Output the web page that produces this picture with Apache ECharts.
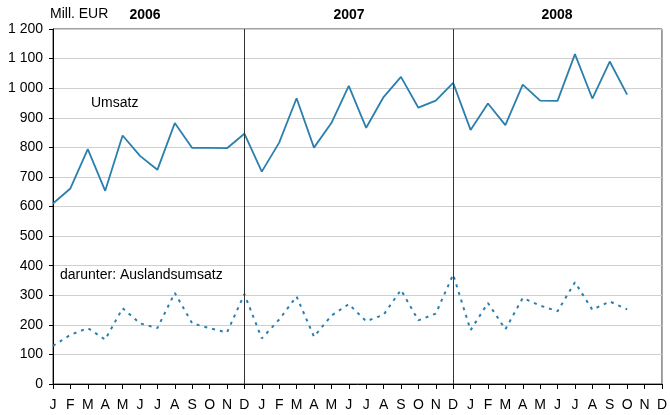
<!DOCTYPE html>
<html>
<head>
<meta charset="utf-8">
<script src="https://cdn.jsdelivr.net/npm/echarts@6/dist/echarts.min.js"></script>
<style>html,body{margin:0;padding:0;background:#fff}#c{width:670px;height:415px}</style>
</head>
<body>
<div id="c"></div>
<script>
const months = ['J','F','M','A','M','J','J','A','S','O','N','D',
                'J','F','M','A','M','J','J','A','S','O','N','D',
                'J','F','M','A','M','J','J','A','S','O','N','D'];
const umsatz = [610,661,794,653,840,771,724,882,798,798,797,846,
                718,816,966,799,882,1008,866,970,1038,934,958,1018,
                859,948,875,1012,958,957,1115,965,1090,978,null,null];
const ausland = [129,166,189,150,256,205,189,308,205,189,174,304,
                 154,218,296,160,231,270,212,234,318,215,238,370,
                 182,274,185,291,265,246,344,251,279,252,null,null];
const yearLabels = ['2006','2007','2008'];

const chart = echarts.init(document.getElementById('c'), null, {renderer:'canvas'});
const FONT = 'Liberation Sans, Arial, sans-serif';
const lineColor = '#2b7fae';
chart.setOption({
  animation:false,
  grid:{left:53,right:7,top:29,bottom:31,show:true,borderColor:'#444',borderWidth:1,backgroundColor:'transparent'},
  xAxis:{
    type:'category', data:months, boundaryGap:false,
    axisLine:{lineStyle:{color:'#000',width:1}},
    axisTick:{show:true,interval:0,length:5,inside:false,lineStyle:{color:'#000'}},
    axisLabel:{interval:0,color:'#000',fontFamily:FONT,fontSize:14,margin:14},
    splitLine:{show:false}
  },
  yAxis:{
    type:'value', min:0, max:1200, interval:100,
    axisLine:{show:true,lineStyle:{color:'#000',width:1}},
    axisTick:{show:true,length:4,lineStyle:{color:'#000'}},
    axisLabel:{color:'#000',fontFamily:FONT,fontSize:14,margin:10,
      formatter:v=>String(v).replace(/\B(?=(\d{3})+(?!\d))/g,' ')},
    splitLine:{show:true,lineStyle:{color:'#cfcfcf',width:1}}
  },
  series:[
    {type:'line',data:umsatz,symbol:'none',lineStyle:{color:lineColor,width:1.8},
     markLine:{silent:true,symbol:'none',label:{show:false},
       lineStyle:{color:'#333',width:1,type:'solid'},
       data:[{xAxis:11},{xAxis:23}]}},
    {type:'line',data:ausland,symbol:'none',lineStyle:{color:lineColor,width:2,type:[3,5]}}
  ],
  graphic:[
    {type:'text',left:50,top:7,style:{text:'Mill. EUR',font:'14px '+FONT,fill:'#000'}},
    {type:'text',x:145,y:8,style:{text:yearLabels[0],font:'bold 14px '+FONT,fill:'#000',align:'center'}},
    {type:'text',x:349,y:8,style:{text:yearLabels[1],font:'bold 14px '+FONT,fill:'#000',align:'center'}},
    {type:'text',x:557,y:8,style:{text:yearLabels[2],font:'bold 14px '+FONT,fill:'#000',align:'center'}},
    {type:'text',left:91,top:96,style:{text:'Umsatz',font:'14px '+FONT,fill:'#000'}},
    {type:'text',left:60,top:268,style:{text:'darunter: Auslandsumsatz',font:'14px '+FONT,fill:'#000'}}
  ]
});
</script>
</body>
</html>
